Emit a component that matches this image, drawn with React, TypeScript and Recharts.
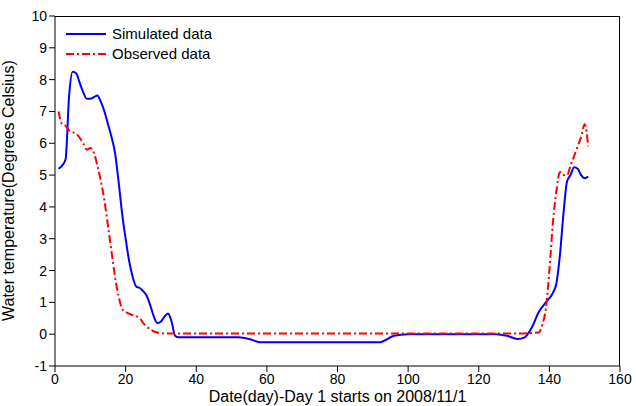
import { LineChart, Line, XAxis, YAxis } from 'recharts';

const simDays = [1, 2, 3, 4, 5, 6, 7, 8, 9, 10, 11, 12, 13, 14, 15, 16, 17, 18, 19, 20, 21, 22, 23, 24, 25, 26, 27, 28, 29, 30, 31, 32, 33, 34, 35, 40, 45, 52, 55, 58, 70, 92, 96, 100, 125, 128, 131, 133, 135, 137, 139, 141, 142, 143, 144, 145, 146, 147, 148, 149, 150, 151];
const simTemp = [5.2, 5.3, 5.5, 7.5, 8.25, 8.2, 7.9, 7.6, 7.4, 7.4, 7.45, 7.5, 7.3, 7.0, 6.6, 6.2, 5.7, 4.8, 3.8, 3.0, 2.3, 1.8, 1.5, 1.45, 1.35, 1.2, 0.9, 0.55, 0.35, 0.4, 0.55, 0.65, 0.4, -0.05, -0.1, -0.1, -0.1, -0.1, -0.15, -0.25, -0.25, -0.25, -0.05, 0, 0, -0.05, -0.15, -0.1, 0.2, 0.7, 1.0, 1.3, 1.6, 2.5, 3.8, 4.8, 5.0, 5.25, 5.2, 5.0, 4.9, 4.95];

const obsDays = [1, 2, 3, 4, 5, 6, 8, 9, 10, 11, 12, 13, 14, 15, 16, 17, 18, 19, 20, 22, 24, 25, 27, 29, 32, 35, 60, 130, 137, 138, 139, 140, 141, 142, 143, 144, 145, 146, 147, 148, 149, 150, 151];
const obsTemp = [7.0, 6.6, 6.55, 6.4, 6.35, 6.3, 6.0, 5.8, 5.85, 5.7, 5.3, 4.8, 4.2, 3.4, 2.6, 1.8, 1.2, 0.8, 0.7, 0.6, 0.5, 0.35, 0.15, 0.05, 0.02, 0.02, 0.02, 0.02, 0.05, 0.3, 0.8, 2.0, 3.5, 4.5, 5.1, 5.0, 5.0, 5.3, 5.6, 5.9, 6.2, 6.6, 5.9];

const xTicks = [0, 20, 40, 60, 80, 100, 120, 140, 160];
const yTicks = [-1, 0, 1, 2, 3, 4, 5, 6, 7, 8, 9, 10];

const simData = simDays.map((d, i) => ({ day: d, temp: simTemp[i] }));
const obsData = obsDays.map((d, i) => ({ day: d, temp: obsTemp[i] }));

const AXIS_TICK = { fill: '#000', fontSize: 14, fontFamily: 'Arial, Liberation Sans, sans-serif' };

export default function App() {
  return (
    <div style={{ position: 'fixed', left: 0, top: 0, width: 636, height: 406, background: '#fff', fontFamily: 'Arial, Liberation Sans, sans-serif' }}>
      <LineChart width={636} height={406} margin={{ top: 16, right: 16, left: 0, bottom: 0 }}>
        <XAxis
          type="number"
          dataKey="day"
          domain={[0, 160]}
          ticks={xTicks}
          tick={AXIS_TICK}
          stroke="#000"
          height={40}
          allowDuplicatedCategory={false}
          label={{ value: 'Date(day)-Day 1 starts on 2008/11/1', position: 'insideBottom', offset: 0, dy: -4, fill: '#000', fontSize: 16 }}
        />
        <YAxis
          type="number"
          domain={[-1, 10]}
          ticks={yTicks}
          tick={AXIS_TICK}
          stroke="#000"
          width={55}
          label={{ value: 'Water temperature(Degrees Celsius)', angle: -90, position: 'insideLeft', offset: 8, dy: 130, fill: '#000', fontSize: 16 }}
        />
        <Line data={simData} dataKey="temp" type="monotone" stroke="#0000ff" strokeWidth={2} dot={false} isAnimationActive={false} />
        <Line data={obsData} dataKey="temp" type="monotone" stroke="#ff0000" strokeWidth={2} strokeDasharray="8 3 2 3" dot={false} isAnimationActive={false} />
      </LineChart>
      <div style={{ position: 'absolute', zIndex: 2, pointerEvents: 'none', left: 55, top: 16, width: 565, height: 350, borderTop: '1px solid #000', borderRight: '1px solid #000', boxSizing: 'border-box' }} />
      <div style={{ position: 'absolute', zIndex: 3, left: 66, top: 24, fontSize: 15, lineHeight: '20px' }}>
        <div style={{ display: 'flex', alignItems: 'center' }}>
          <svg width={40} height={10} style={{ marginRight: 6 }}><line x1={0} y1={5} x2={40} y2={5} stroke="#0000ff" strokeWidth={2} /></svg>
          Simulated data
        </div>
        <div style={{ display: 'flex', alignItems: 'center' }}>
          <svg width={40} height={10} style={{ marginRight: 6 }}><line x1={0} y1={5} x2={40} y2={5} stroke="#ff0000" strokeWidth={2} strokeDasharray="8 3 2 3" /></svg>
          Observed data
        </div>
      </div>
    </div>
  );
}
